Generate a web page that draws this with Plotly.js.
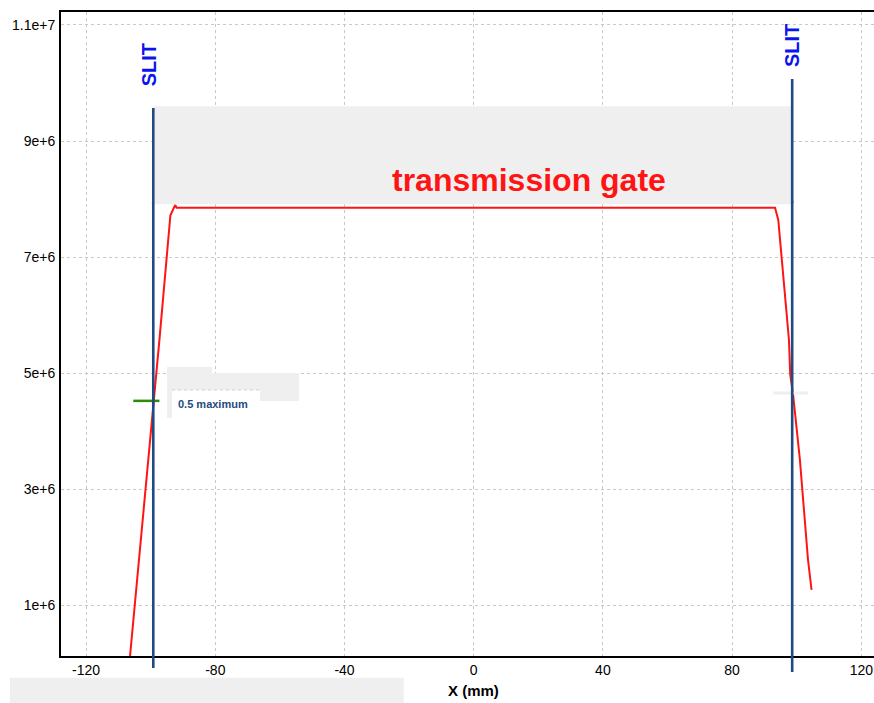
<!DOCTYPE html>
<html>
<head>
<meta charset="utf-8">
<script src="https://cdn.plot.ly/plotly-3.0.1.min.js"></script>
<style>html,body{margin:0;padding:0;background:#fff;overflow:hidden;}#chart{width:880px;height:703px;}</style>
</head>
<body>
<div id="chart"></div>
<script>
// ---- data ----
const xTickVals = [-120, -80, -40, 0, 40, 80, 120];
const xTickText = ['-120', '-80', '-40', '0', '40', '80', '120'];
const yTickVals = [1e6, 3e6, 5e6, 7e6, 9e6, 1.1e7];
const yTickText = ['1e+6', '3e+6', '5e+6', '7e+6', '9e+6', '1.1e+7'];

const profileX = [-106.6, -103.6, -100.2, -97.3, -93.9, -93.0, -92.4, -92.0, 93.3, 94.3, 97.6, 98.0, 98.9, 101.0, 103.5, 104.6];
const profileY = [0, 1.78e6, 3.85e6, 5.57e6, 7.72e6, 7.84e6, 7.9e6, 7.85e6, 7.85e6, 7.64e6, 5.57e6, 4.97e6, 4.62e6, 3.5e6, 1.78e6, 1.26e6];

const slitX = [-99.2, 98.6];
const slitTop = [9.57e6, 1.007e7];
const slitLabels = ['SLIT', 'SLIT'];

const gateTop = 9.6e6;
const gateBottom = 7.91e6;
const gateLabel = 'transmission gate';

const halfMaxX = [-105.4, -97.3];
const halfMaxY = [4.52e6, 4.52e6];
const halfMaxLabel = '0.5 maximum';

const xRange = [-127.77, 125.79];
const yRange = [0.121e6, 11.224e6];

// ---- helpers ----
const yPaper = v => (v - yRange[0]) / (yRange[1] - yRange[0]);
const slitColor = '#1f4a82';
const gray = '#efefef';

const traces = [
  {
    x: profileX, y: profileY, type: 'scatter', mode: 'lines',
    line: {color: '#ff1414', width: 2}, hoverinfo: 'skip', showlegend: false
  },
  {
    x: halfMaxX, y: halfMaxY, type: 'scatter', mode: 'lines',
    line: {color: '#2e8b0a', width: 2.5}, hoverinfo: 'skip', showlegend: false
  },
  {
    x: slitX, y: [gateBottom + 0.02e6, gateBottom + 0.04e6], type: 'scatter', mode: 'markers',
    marker: {color: '#3a9a1a', size: 3}, hoverinfo: 'skip', showlegend: false
  }
];

const shapes = [
  // transmission gate box
  {type: 'rect', xref: 'x', yref: 'y', x0: slitX[0], x1: slitX[1], y0: gateBottom, y1: gateTop,
   fillcolor: gray, line: {width: 0}, layer: 'above'},
  // 0.5 maximum label background
  {type: 'rect', xref: 'x', yref: 'y', x0: -94.95, x1: -81.02, y0: 4.517e6, y1: 5.103e6,
   fillcolor: gray, line: {width: 0}, layer: 'above'},
  {type: 'rect', xref: 'x', yref: 'y', x0: -94.95, x1: -54.08, y0: 4.517e6, y1: 5.0e6,
   fillcolor: gray, line: {width: 0}, layer: 'above'},
  {type: 'rect', xref: 'x', yref: 'y', x0: -94.95, x1: -93.41, y0: 4.224e6, y1: 4.707e6,
   fillcolor: gray, line: {width: 0}, layer: 'above'},
  {type: 'rect', xref: 'x', yref: 'y', x0: -93.41, x1: -66.16, y0: 4.19e6, y1: 4.707e6,
   fillcolor: '#ffffff', line: {width: 0}, layer: 'above'},
  {type: 'line', xref: 'x', yref: 'y', x0: -93.41, x1: -66.16, y0: 4.707e6, y1: 4.707e6,
   line: {color: '#cfcfcf', width: 1, dash: 'dot'}, layer: 'above'},
  // right small gray bar
  {type: 'rect', xref: 'x', yref: 'y', x0: 92.66, x1: 103.5, y0: 4.629e6, y1: 4.681e6,
   fillcolor: gray, line: {width: 0}, layer: 'above'},
  // bottom-left gray bar outside plot
  {type: 'rect', xref: 'paper', yref: 'paper', x0: -0.0622, x1: 0.4184, y0: -0.073, y1: -0.0337,
   fillcolor: gray, line: {width: 0}, layer: 'above'}
];
// slit lines (from data)
const slitBottomPaper = [-0.0186, -0.0248];
slitX.forEach((sx, i) => {
  shapes.push({type: 'line', xref: 'x', yref: 'paper', x0: sx, x1: sx,
    y0: slitBottomPaper[i], y1: yPaper(slitTop[i]),
    line: {color: slitColor, width: 2.6}, layer: 'above'});
});

const annotations = [
  {x: 17.1, y: 8.33e6, xref: 'x', yref: 'y', text: gateLabel, showarrow: false,
   font: {family: 'Liberation Sans, Arial, sans-serif', size: 32, color: '#ff1414', weight: 'bold'},
   xanchor: 'center', yanchor: 'middle'},
  {x: slitX[0], y: 10.31e6, xref: 'x', yref: 'y', text: slitLabels[0], showarrow: false, textangle: -90,
   xshift: -4, font: {family: 'Liberation Sans, Arial, sans-serif', size: 20, color: '#0a14ee', weight: 'bold'},
   xanchor: 'center', yanchor: 'middle'},
  {x: slitX[1], y: 10.64e6, xref: 'x', yref: 'y', text: slitLabels[1], showarrow: false, textangle: -90,
   font: {family: 'Liberation Sans, Arial, sans-serif', size: 20, color: '#0a14ee', weight: 'bold'},
   xanchor: 'center', yanchor: 'middle'},
  {x: -92.1, y: 4.466e6, xref: 'x', yref: 'y', text: halfMaxLabel, showarrow: false,
   font: {family: 'Liberation Sans, Arial, sans-serif', size: 11, color: '#1f4a82', weight: 'bold'},
   xanchor: 'left', yanchor: 'middle'},
  {x: 0, y: -0.0543, xref: 'x', yref: 'paper', text: 'X (mm)', showarrow: false,
   font: {family: 'Liberation Sans, Arial, sans-serif', size: 15, color: '#000', weight: 'bold'},
   xanchor: 'center', yanchor: 'middle'}
];

const layout = {
  width: 880, height: 703,
  margin: {l: 61, r: 0, t: 12, b: 47, pad: 0},
  paper_bgcolor: '#ffffff', plot_bgcolor: '#ffffff',
  showlegend: false,
  font: {family: 'Liberation Sans, Arial, sans-serif', size: 14, color: '#000'},
  xaxis: {
    range: xRange, tickvals: xTickVals, ticktext: xTickText,
    showline: true, linecolor: '#000', linewidth: 2, mirror: true,
    showgrid: true, gridcolor: '#c8c8c8', gridwidth: 1, griddash: '3px,3px',
    zeroline: false, ticks: '', ticklabelstandoff: 0,
    tickfont: {size: 14, color: '#000'}
  },
  yaxis: {
    range: yRange, tickvals: yTickVals, ticktext: yTickText,
    showline: true, linecolor: '#000', linewidth: 2,
    showgrid: true, gridcolor: '#c8c8c8', gridwidth: 1, griddash: '3px,3px',
    zeroline: false, ticks: '', ticklabelstandoff: 1,
    tickfont: {size: 14, color: '#000'}
  },
  shapes: shapes,
  annotations: annotations
};

Plotly.newPlot('chart', traces, layout, {displayModeBar: false, staticPlot: true});
</script>
</body>
</html>
